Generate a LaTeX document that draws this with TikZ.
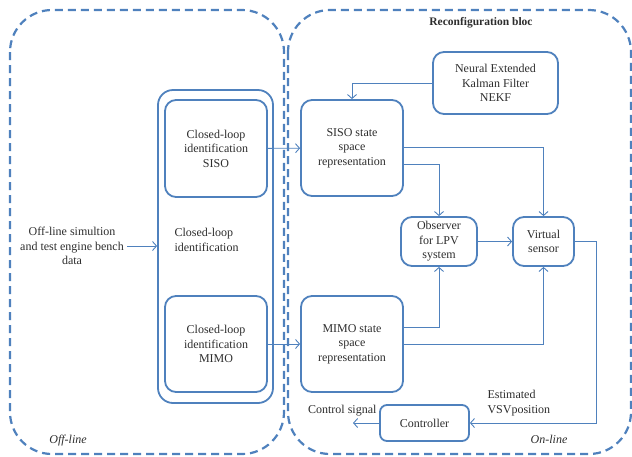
\documentclass[tikz,border=0pt]{standalone}
\usepackage{fontspec}
\setmainfont{Liberation Serif}
\usepackage{tikz}
\usetikzlibrary{positioning,arrows.meta}

\definecolor{offblue}{RGB}{79,129,189}
\definecolor{txtgray}{RGB}{45,45,45}

\tikzset{
  block/.style={draw=offblue, line width=1.8pt, rounded corners=11pt,
    align=center, inner sep=2pt},
  flow/.style={draw=offblue, line width=0.9pt,
    -{Straight Barb[length=4pt,width=9pt]}},
  region/.style={draw=offblue, line width=2.2pt,
    dash pattern=on 8pt off 5pt, rounded corners=42pt},
}

\begin{document}
\begin{tikzpicture}[x=1pt, y=-1pt, >=Latex, text=txtgray,
    font=\fontsize{12}{14.5}\selectfont]
  \useasboundingbox (0,0) rectangle (632,456);
  % the two dashed areas
  \draw[region] (10,10) rectangle (284,454);
  \draw[region] (288,10) rectangle (631,454);
  \node (recon) at (481,23) {\fontsize{11.5}{14}\selectfont\bfseries Reconfiguration bloc};
  \node (offline) at (68,441) {\itshape Off-line};
  \node (online) at (549,439) {\itshape On-line};

  % off-line part
  \node (clid) [block, rounded corners=15pt, minimum width=115pt,
                minimum height=313pt] at (215.5,246.5) {};
  \node (clsiso) [block, minimum width=102pt, minimum height=97pt]
    at (216,148.5) {Closed-loop\\identification\\SISO};
  \node (clmimo) [block, minimum width=102pt, minimum height=96pt]
    at (216,344) {Closed-loop\\identification\\MIMO};
  \node (cltext) [anchor=west, align=left] at (171,240)
    {Closed-loop\\identification};
  \node (data) [align=center] at (72,246)
    {Off-line simultion\\and test engine bench\\data};

  % on-line part
  \node (ssiso) [block, minimum width=102pt, minimum height=96pt]
    at (352,148) {SISO state\\space\\representation};
  \node (ssmimo) [block, minimum width=102pt, minimum height=96pt]
    at (352,344) {MIMO state\\space\\representation};
  \node (nekf) [block, minimum width=125pt, minimum height=62pt]
    at (495.5,83) {Neural Extended\\Kalman Filter\\NEKF};
  \node (obs) [block, minimum width=76pt, minimum height=49pt]
    at (439,241.5) {Observer\\for LPV\\system};
  \node (vs) [block, minimum width=61pt, minimum height=49pt]
    at (543.5,241.5) {Virtual\\sensor};
  \node (ctrl) [block, rounded corners=7pt, minimum width=89pt,
                minimum height=36pt] at (424.5,423) {Controller};
  \node (ctrlsig) [anchor=east] at (380,411) {Control signal};
  \node (vsvpos) [anchor=west, align=left] at (484,403)
    {Estimated\\VSVposition};
  \coordinate (ctrlout) at (353,423);

  \draw[flow] (data.east) -- (data.east -| clid.west);
  \draw[flow] (clsiso) -- (ssiso);
  \draw[flow] (clmimo) -- (ssmimo);
  \draw[flow] (nekf.west) -| (ssiso.north);
  \draw[flow] ([yshift=1pt]ssiso.east) -| (vs.north);
  \draw[flow] ([yshift=-16pt]ssiso.east) -| (obs.north);
  \draw[flow] ([yshift=17pt]ssmimo.east) -| (obs.south);
  \draw[flow] (ssmimo.east) -| (vs.south);
  \draw[flow] (obs) -- (vs);
  \draw[flow] (vs.east) -- ++(22,0) |- (ctrl.east);
  \draw[flow] (ctrl.west) -- (ctrlout);
\end{tikzpicture}
\end{document}
